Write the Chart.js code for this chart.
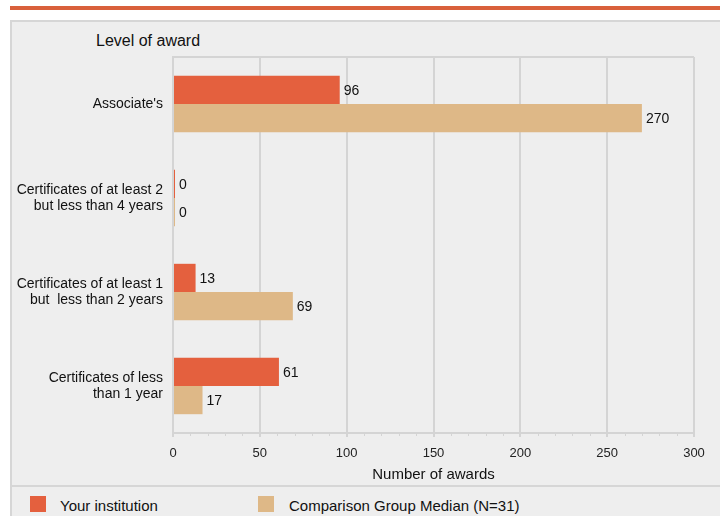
<!DOCTYPE html>
<html>
<head>
<meta charset="utf-8">
<script src="https://cdn.jsdelivr.net/npm/chart.js@4"></script>
<style>
  body { margin: 0; background: #fff; font-family: "Liberation Sans", Arial, sans-serif; }
  #wrap { position: relative; width: 720px; height: 516px; overflow: hidden; }
  #topbar { position: absolute; left: 10px; right: 0; top: 6px; height: 4px; background: #d9603b; }
  #panel { position: absolute; left: 10px; top: 20px; width: 720px; height: 510px; background: #eeeeee;
           border-left: 2px solid #d6d6d6; border-top: 2px solid #d6d6d6; box-sizing: border-box; }
  #ytitle { position: absolute; left: 96px; top: 32px; font-size: 16px; color: #111; }
  #chartbox { position: absolute; left: 10px; top: 20px; width: 710px; height: 465px; }
  #sep { position: absolute; left: 10px; right: 0; top: 485px; height: 2px; background: #d6d6d6; }
  .leg { position: absolute; top: 497px; font-size: 15px; color: #111; }
  .sw { position: absolute; top: 496px; width: 16px; height: 16px; }
</style>
</head>
<body>
<div id="wrap">
  <div id="topbar"></div>
  <div id="panel"></div>
  <div id="ytitle">Level of award</div>
  <div id="chartbox"><canvas id="awardsChart" width="710" height="465"></canvas></div>
  <div id="sep"></div>
  <div class="sw" style="left:30px;background:#e4603e"></div>
  <div class="leg" style="left:60px">Your institution</div>
  <div class="sw" style="left:258px;background:#deb887"></div>
  <div class="leg" style="left:289px">Comparison Group Median (N=31)</div>
</div>
<script>
// Kategori dan nilai
const categories = [
  ["Associate's"],
  ["Certificates of at least 2", "but less than 4 years"],
  ["Certificates of at least 1", "but  less than 2 years"],
  ["Certificates of less", "than 1 year"]
];
const institutionValues = [96, 0, 13, 61];
const medianValues = [270, 0, 69, 17];
const xTicks = [0, 50, 100, 150, 200, 250, 300];

const orange = '#e4603e';
const tan = '#deb887';
const gridColor = '#d4d4d4';

// Label angka di ujung bar + kotak atas + minor ticks
const extras = {
  id: 'extras',
  afterDatasetsDraw(chart) {
    const c = chart.ctx;
    const area = chart.chartArea;
    const x = chart.scales.x;
    c.save();
    // garis atas
    c.strokeStyle = gridColor;
    c.lineWidth = 2;
    c.beginPath();
    c.moveTo(area.left, area.top);
    c.lineTo(area.right, area.top);
    c.stroke();
    // minor ticks tiap 10
    c.lineWidth = 1;
    for (let v = 0; v <= 300; v += 10) {
      if (v % 50 === 0) continue;
      const px = Math.round(x.getPixelForValue(v)) + 0.5;
      c.beginPath();
      c.moveTo(px, area.bottom);
      c.lineTo(px, area.bottom + 3);
      c.stroke();
    }
    // nilai
    c.fillStyle = '#111';
    c.font = '14px "Liberation Sans", Arial, sans-serif';
    c.textBaseline = 'middle';
    c.textAlign = 'left';
    chart.data.datasets.forEach((ds, i) => {
      chart.getDatasetMeta(i).data.forEach((bar, j) => {
        c.fillText(String(ds.data[j]), bar.x + 4, bar.y + 1);
      });
    });
    c.restore();
  }
};

const ctx = document.getElementById('awardsChart').getContext('2d');

const config = {
  type: 'bar',
  data: {
    labels: categories,
    datasets: [
      { label: 'Your institution', data: institutionValues, backgroundColor: orange, minBarLength: 2 },
      { label: 'Comparison Group Median (N=31)', data: medianValues, backgroundColor: tan, minBarLength: 2 }
    ]
  },
  options: {
    indexAxis: 'y',
    responsive: false,
    animation: false,
    layout: { padding: { top: 37, right: 26, left: 0, bottom: 0 } },
    categoryPercentage: 0.6,
    barPercentage: 1,
    plugins: {
      legend: { display: false },
      tooltip: { enabled: false }
    },
    scales: {
      x: {
        min: 0,
        max: 300,
        afterBuildTicks(scale) { scale.ticks = xTicks.map(v => ({ value: v })); },
        afterFit(scale) { scale.height = 52; },
        grid: { color: gridColor, lineWidth: 2, tickLength: 4, tickColor: gridColor },
        border: { color: gridColor, width: 2 },
        ticks: { color: '#222', font: { size: 13, family: '"Liberation Sans", Arial, sans-serif' }, padding: 9 },
        title: {
          display: true,
          text: 'Number of awards',
          color: '#111',
          font: { size: 15, family: '"Liberation Sans", Arial, sans-serif' },
          padding: { top: 2, bottom: 1 }
        }
      },
      y: {
        afterFit(scale) { scale.width = 163; },
        grid: { display: false },
        border: { color: gridColor, width: 2 },
        ticks: {
          color: '#111',
          padding: 2,
          font: { size: 14, family: '"Liberation Sans", Arial, sans-serif', lineHeight: 1.15 }
        }
      }
    }
  },
  plugins: [extras]
};

const awardsChart = new Chart(ctx, config);
</script>
</body>
</html>
